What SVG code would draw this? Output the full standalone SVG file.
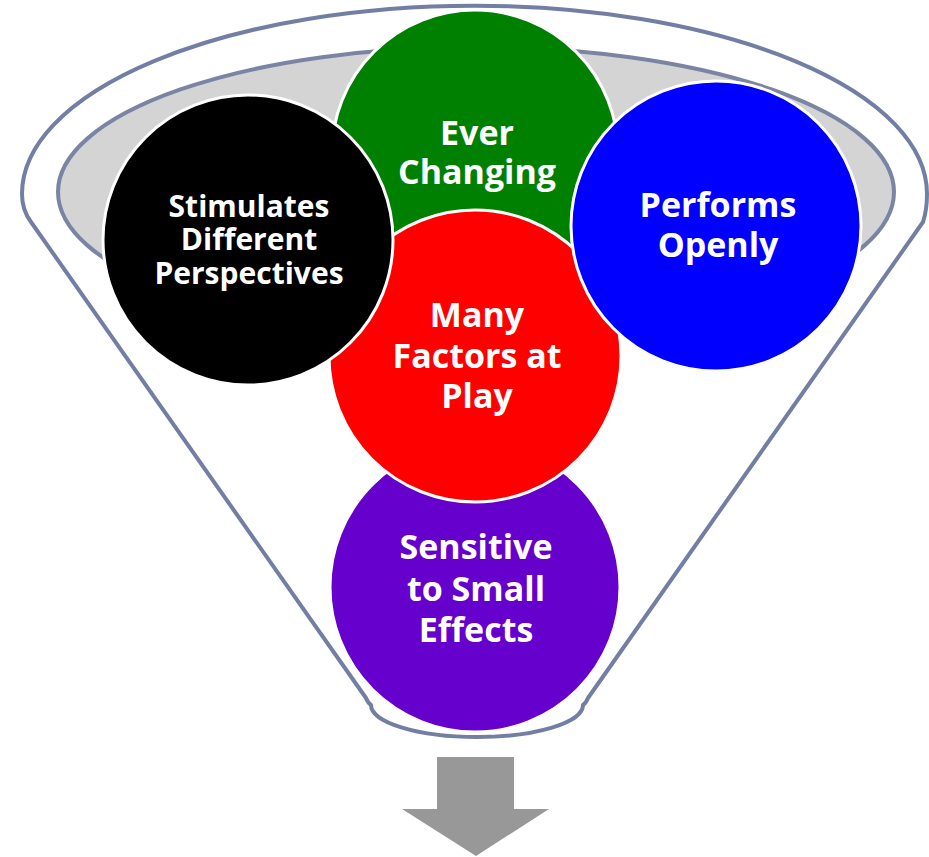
<svg xmlns="http://www.w3.org/2000/svg" width="929" height="857" viewBox="0 0 929 857">
  <style>
    .circ { stroke: #ffffff; stroke-width: 3; }
    .lbl { font-family: "Open Sans", Lato, "Liberation Sans", sans-serif; font-weight: bold; fill: #ffffff; text-anchor: middle; }
    .big { font-size: 34px; }
    .small { font-size: 30px; }
  </style>
  <rect width="929" height="857" fill="#ffffff"/>
  <g id="funnel">
    <path d="M 31,222 Q 22,210 22,194 A 452 188 0 0 1 927,194 Q 927,210 923,222 L 588,698 Q 586,703 583,705 A 106 32 0 0 1 371,705 Q 368,703 366,698 Z" fill="#ffffff" stroke="#727ea3" stroke-width="4" stroke-linejoin="round"/>
    <ellipse cx="476" cy="192" rx="418" ry="145" fill="#d4d4d4" stroke="#7b85a3" stroke-width="4"/>
  </g>
  <g id="node-sensitive">
    <circle class="circ" cx="475" cy="587" r="145" fill="#6600cc"/>
    <text class="lbl big"><tspan x="476" y="559">Sensitive</tspan><tspan x="476" y="601">to Small</tspan><tspan x="476" y="642">Effects</tspan></text>
  </g>
  <g id="node-ever-changing">
    <circle class="circ" cx="475" cy="153" r="143" fill="#008000"/>
    <text class="lbl big"><tspan x="477" y="145">Ever</tspan><tspan x="477" y="184">Changing</tspan></text>
  </g>
  <g id="node-many-factors">
    <circle class="circ" cx="475" cy="356" r="146" fill="#ff0000"/>
    <text class="lbl big"><tspan x="477" y="327">Many</tspan><tspan x="477" y="368">Factors at</tspan><tspan x="477" y="408">Play</tspan></text>
  </g>
  <g id="node-stimulates">
    <circle class="circ" cx="248" cy="240" r="145" fill="#000000"/>
    <text class="lbl small"><tspan x="249" y="217">Stimulates</tspan><tspan x="249" y="250">Different</tspan><tspan x="249" y="284">Perspectives</tspan></text>
  </g>
  <g id="node-performs">
    <circle class="circ" cx="716" cy="226" r="145" fill="#0000ff"/>
    <text class="lbl big"><tspan x="718" y="217">Performs</tspan><tspan x="718" y="257">Openly</tspan></text>
  </g>
  <g id="connectors">
    <path d="M 437,757 L 514,757 L 514,809 L 549,809 L 476,856 L 402,809 L 437,809 Z" fill="#989898"/>
  </g>
</svg>
